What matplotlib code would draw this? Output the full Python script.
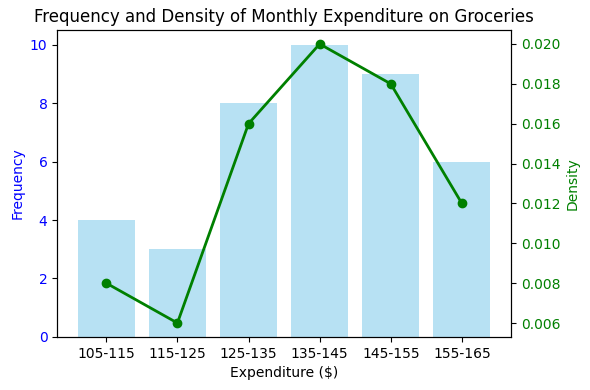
import matplotlib
matplotlib.use("Agg")
import matplotlib.pyplot as plt

# data
ranges = ["105-115", "115-125", "125-135", "135-145", "145-155", "155-165"]
frequency = [4, 3, 8, 10, 9, 6]
density = [0.008, 0.006, 0.016, 0.020, 0.018, 0.012]

fig, ax1 = plt.subplots(figsize=(5.9, 3.9), dpi=100)

ax1.bar(ranges, frequency, color="skyblue", alpha=0.6)
ax1.set_xlabel("Expenditure ($)")
ax1.set_ylabel("Frequency", color="blue")
ax1.tick_params(axis="y", labelcolor="blue")

ax2 = ax1.twinx()
ax2.plot(ranges, density, color="green", marker="o", linewidth=2)
ax2.set_ylabel("Density", color="green")
ax2.tick_params(axis="y", labelcolor="green")

plt.title("Frequency and Density of Monthly Expenditure on Groceries")
fig.subplots_adjust(left=0.097, right=0.866, bottom=0.136, top=0.923)
plt.savefig("out.png")
